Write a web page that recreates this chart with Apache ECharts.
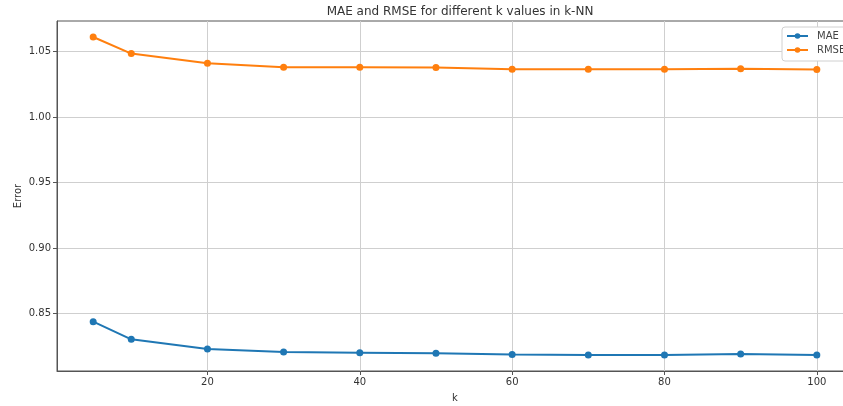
<!DOCTYPE html>
<html>
<head>
<meta charset="utf-8">
<script src="https://cdn.jsdelivr.net/npm/echarts@6/dist/echarts.min.js"></script>
<style>html,body{margin:0;padding:0;background:#fff;overflow:hidden;width:843px;height:406px;}#c{width:860px;height:406px;}</style>
</head>
<body>
<div id="c"></div>
<script>
const kValues = [5, 10, 20, 30, 40, 50, 60, 70, 80, 90, 100];
const maeValues = [0.8437, 0.8302, 0.8228, 0.8205, 0.8200, 0.8195, 0.8187, 0.8182, 0.8182, 0.8189, 0.8182];
const rmseValues = [1.0612, 1.0485, 1.0411, 1.0381, 1.0380, 1.0379, 1.0366, 1.0366, 1.0365, 1.0370, 1.0364];
const xTicks = [20, 40, 60, 80, 100];
const yTicks = [0.85, 0.90, 0.95, 1.00, 1.05];
const seriesNames = ['MAE', 'RMSE'];
const titleText = 'MAE and RMSE for different k values in k-NN';

const font = 'DejaVu Sans';
const chart = echarts.init(document.getElementById('c'), null, {renderer: 'canvas'});
const mk = (vals) => kValues.map((k, i) => [k, vals[i]]);
chart.setOption({
  animation: false,
  backgroundColor: '#fff',
  title: {
    text: titleText, left: 455, top: 1, textAlign: 'center',
    textStyle: {fontFamily: font, fontSize: 12, fontWeight: 'normal', color: '#333'}
  },
  legend: {
    orient: 'vertical', left: 782, top: 27,
    data: seriesNames,
    itemWidth: 21, itemHeight: 7, itemGap: 4,
    backgroundColor: '#fff', borderColor: '#d0d0d0', borderWidth: 1, borderRadius: 3,
    padding: [4, 8, 6, 4],
    textStyle: {fontFamily: font, fontSize: 10, color: '#444', padding: [0, 0, 0, 4]}
  },
  grid: {left: 57, width: 796, top: 21, height: 350, outerBoundsMode: 'none', containLabel: false,
    show: true, borderColor: '#555', borderWidth: 1, backgroundColor: 'transparent'},
  xAxis: {
    type: 'value', min: 0.25, max: 104.75,
    name: 'k', nameLocation: 'middle', nameGap: 22, nameMoveOverlap: false,
    nameTextStyle: {fontFamily: font, fontSize: 10, color: '#333'},
    axisLine: {show: true, lineStyle: {color: '#555'}},
    axisTick: {show: true, length: 4, customValues: xTicks, lineStyle: {color: '#555'}},
    axisLabel: {customValues: xTicks, fontFamily: font, fontSize: 10, color: '#333', margin: 6},
    splitLine: {show: true, lineStyle: {color: '#cfcfcf', width: 1}}
  },
  yAxis: {
    type: 'value', min: 0.8060, max: 1.0734,
    name: 'Error', nameLocation: 'middle', nameGap: 34, nameRotate: 90, nameMoveOverlap: false,
    nameTextStyle: {fontFamily: font, fontSize: 10, color: '#333'},
    axisLine: {show: true, lineStyle: {color: '#555'}},
    axisTick: {show: true, length: 4, customValues: yTicks, lineStyle: {color: '#555'}},
    axisLabel: {customValues: yTicks, fontFamily: font, fontSize: 10, color: '#333', margin: 6,
      formatter: v => v.toFixed(2)},
    splitLine: {show: true, lineStyle: {color: '#cfcfcf', width: 1}}
  },
  series: [
    {name: seriesNames[0], type: 'line', data: mk(maeValues), color: '#1f77b4',
     symbol: 'circle', symbolSize: 7, lineStyle: {width: 2}, itemStyle: {color: '#1f77b4'}},
    {name: seriesNames[1], type: 'line', data: mk(rmseValues), color: '#ff7f0e',
     symbol: 'circle', symbolSize: 7, lineStyle: {width: 2}, itemStyle: {color: '#ff7f0e'}}
  ]
});
</script>
</body>
</html>
